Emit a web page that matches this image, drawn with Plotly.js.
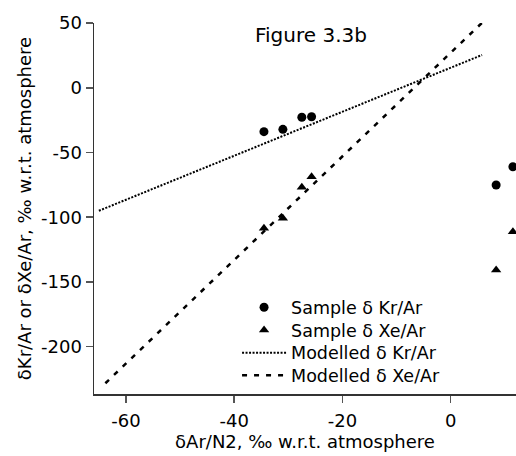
<!DOCTYPE html>
<html>
<head>
<meta charset="utf-8">
<script src="https://cdn.plot.ly/plotly-3.0.1.min.js"></script>
<style>html,body{margin:0;padding:0;background:#fff;}#chart{width:516px;height:456px;}</style>
</head>
<body>
<div id="chart"></div>
<script>
// Sample data (δAr/N2 on x, ‰ w.r.t. atmosphere)
var sampleX = [-34.5, -31.0, -27.5, -25.7, 8.4, 11.5];
var sampleKr = [-33.9, -32.1, -22.8, -22.4, -75.1, -61.0];
var sampleXe = [-108.5, -100.8, -76.9, -68.7, -140.7, -111.2];
// Modelled lines
var modelKrX = [-65.0, 5.8];
var modelKrY = [-95.0, 25.3];
var modelXeX = [-63.8, 5.8];
var modelXeY = [-228.2, 50.2];
// Tick labels
var xTickVals = [-60, -40, -20, 0];
var xTickText = ["-60", "-40", "-20", "0"];
var yTickVals = [50, 0, -50, -100, -150, -200];
var yTickText = ["50", "0", "-50", "-100", "-150", "-200"];
var names = ["Sample \u03b4 Kr/Ar", "Sample \u03b4 Xe/Ar", "Modelled \u03b4 Kr/Ar", "Modelled \u03b4 Xe/Ar"];

var FONT = "DejaVu Sans, Verdana, sans-serif";
var traces = [
  {x: sampleX, y: sampleKr, mode: "markers", type: "scatter", name: names[0], legend: "legend",
   marker: {symbol: "circle", size: 9, color: "#000"}},
  {x: sampleX, y: sampleXe, mode: "markers", type: "scatter", name: names[1], legend: "legend2",
   marker: {symbol: "triangle-up", size: 9, color: "#000"}},
  {x: modelKrX, y: modelKrY, mode: "lines", type: "scatter", name: names[2], legend: "legend3",
   line: {color: "#000", width: 2, dash: "2px,1.5px"}},
  {x: modelXeX, y: modelXeY, mode: "lines", type: "scatter", name: names[3], legend: "legend4",
   line: {color: "#000", width: 2.5, dash: "5px,7px"}}
];

function leg(i) {
  return {x: 0.339, xanchor: "left", y: 0.282 - i * 0.0612, yanchor: "top",
          bgcolor: "rgba(0,0,0,0)", borderwidth: 0, itemwidth: 44,
          font: {family: FONT, size: 17.5, color: "#000"}};
}

var layout = {
  width: 516, height: 456,
  margin: {l: 94, r: 0, t: 23, b: 62, pad: 0},
  paper_bgcolor: "#fff", plot_bgcolor: "#fff",
  font: {family: FONT, size: 18, color: "#000"},
  showlegend: true,
  legend: leg(0), legend2: leg(1), legend3: leg(2), legend4: leg(3),
  title: {text: "Figure 3.3b", font: {family: FONT, size: 20, color: "#000"},
          xref: "container", yref: "container", x: 255/516, xanchor: "left",
          y: 1 - 35/456, yanchor: "middle"},
  xaxis: {range: [-65.9, 12.07], showgrid: false, zeroline: false,
          showline: true, linecolor: "#333", linewidth: 1.5,
          ticks: "outside", ticklen: 7, tickwidth: 1.5, tickcolor: "#555",
          tickvals: xTickVals, ticktext: xTickText, ticklabelstandoff: 3,
          tickfont: {family: FONT, size: 18, color: "#000"},
          title: {text: "\u03b4Ar/N2, \u2030 w.r.t. atmosphere", font: {family: FONT, size: 18, color: "#000"}, standoff: 2}},
  yaxis: {range: [-236.5, 50], showgrid: false, zeroline: false,
          showline: true, linecolor: "#333", linewidth: 1.5,
          ticks: "outside", ticklen: 7, tickwidth: 1.5, tickcolor: "#555",
          tickvals: yTickVals, ticktext: yTickText,
          tickfont: {family: FONT, size: 18, color: "#000"},
          title: {text: "\u03b4Kr/Ar or \u03b4Xe/Ar, \u2030 w.r.t. atmosphere", font: {family: FONT, size: 18, color: "#000"}, standoff: 4}}
};

Plotly.newPlot("chart", traces, layout, {displayModeBar: false, staticPlot: true});
</script>
</body>
</html>
